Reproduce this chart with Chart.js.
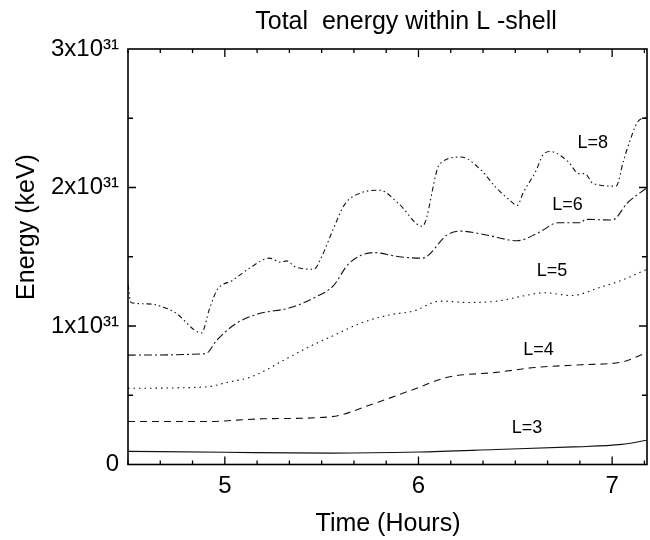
<!DOCTYPE html>
<html>
<head>
<meta charset="utf-8">
<script src="https://cdn.jsdelivr.net/npm/chart.js@4.4.0/dist/chart.umd.min.js"></script>
<style>
  html, body { margin: 0; padding: 0; background: #fff; }
  #wrap { width: 650px; height: 540px; }
</style>
</head>
<body>
<div id="wrap"><canvas id="chart"></canvas></div>
<script>
// energy in units of 1e31 keV, time in hours
const timeL3 = [4.5, 5.0, 5.55, 6.0, 6.4, 6.8, 7.05, 7.18];
const energyL3 = [0.095, 0.088, 0.082, 0.09, 0.108, 0.127, 0.145, 0.175];

const timeL4 = [4.5, 4.9, 5.2, 5.55, 5.75, 5.98, 6.15, 6.4, 6.6, 6.84, 7.05, 7.18];
const energyL4 = [0.31, 0.31, 0.33, 0.345, 0.43, 0.545, 0.63, 0.665, 0.70, 0.72, 0.74, 0.81];

const timeL5 = [4.5, 4.9, 5.02, 5.13, 5.21, 5.3, 5.45, 5.56, 5.7, 5.85, 5.98, 6.11, 6.25, 6.41, 6.55, 6.65, 6.79, 6.94, 7.05, 7.18];
const energyL5 = [0.55, 0.56, 0.595, 0.63, 0.68, 0.75, 0.86, 0.93, 1.02, 1.08, 1.11, 1.18, 1.17, 1.18, 1.22, 1.24, 1.22, 1.28, 1.33, 1.41];

const timeL6 = [4.5, 4.9, 4.96, 5.06, 5.17, 5.34, 5.47, 5.56, 5.64, 5.77, 5.9, 6.02, 6.15, 6.22, 6.35, 6.51, 6.62, 6.72, 6.84, 6.86, 7.0, 7.08, 7.18];
const energyL6 = [0.79, 0.80, 0.90, 1.02, 1.086, 1.133, 1.21, 1.29, 1.45, 1.53, 1.50, 1.49, 1.66, 1.685, 1.657, 1.616, 1.674, 1.745, 1.745, 1.77, 1.765, 1.89, 2.0];

const timeL8 = [4.5, 4.515, 4.6, 4.74, 4.88, 4.92, 4.96, 5.04, 5.13, 5.23, 5.29, 5.32, 5.36, 5.46, 5.5, 5.56, 5.62, 5.7, 5.8, 5.9, 6.02, 6.11, 6.22, 6.32, 6.4, 6.47, 6.51, 6.54, 6.61, 6.64, 6.68, 6.77, 6.83, 6.86, 6.9, 7.02, 7.06, 7.09, 7.13, 7.18];
const energyL8 = [1.30, 1.17, 1.16, 1.10, 0.95, 1.12, 1.26, 1.33, 1.42, 1.49, 1.46, 1.47, 1.43, 1.41, 1.50, 1.70, 1.88, 1.96, 1.98, 1.88, 1.72, 2.17, 2.22, 2.13, 2.0, 1.91, 1.87, 1.96, 2.13, 2.23, 2.26, 2.19, 2.10, 2.10, 2.03, 2.01, 2.2, 2.33, 2.47, 2.51];

const shellNames = ["L=3", "L=4", "L=5", "L=6", "L=8"];
const yTickValues = [0, 1, 2, 3];

const pts = (xs, ys) => xs.map((x, i) => ({ x: x, y: ys[i] }));

const line = (label, xs, ys, dash) => ({
    label: label,
    data: pts(xs, ys),
    borderColor: "#111",
    borderWidth: 1.1,
    borderDash: dash,
    pointRadius: 0,
    fill: false,
    cubicInterpolationMode: "monotone",
});

const FONT = "'Liberation Sans', Arial, sans-serif";

// where the L=.. labels sit, in data units
const shellLabelSpots = [
    { x: 6.56, y: 0.26 },
    { x: 6.62, y: 0.83 },
    { x: 6.69, y: 1.40 },
    { x: 6.77, y: 1.87 },
    { x: 6.90, y: 2.32 },
];

const frame = {
    id: "frame",
    afterDraw(chart) {
        const { ctx, chartArea: a, scales: { x, y } } = chart;
        ctx.save();
        ctx.strokeStyle = "#000";
        ctx.lineWidth = 1.6;
        ctx.strokeRect(a.left, a.top, a.right - a.left, a.bottom - a.top);

        ctx.lineWidth = 1.3;
        ctx.beginPath();
        // x ticks every 10 minutes
        for (let k = 27; k / 6 <= x.max + 1e-9; k++) {
            const px = x.getPixelForValue(k / 6);
            const len = k % 6 === 0 ? 8 : 4;
            ctx.moveTo(px, a.bottom); ctx.lineTo(px, a.bottom - len);
            ctx.moveTo(px, a.top); ctx.lineTo(px, a.top + len);
        }
        // y ticks every 0.5e31
        for (let v = 0.5; v < y.max; v += 0.5) {
            const py = y.getPixelForValue(v);
            const len = Number.isInteger(v) ? 8 : 5;
            ctx.moveTo(a.left, py); ctx.lineTo(a.left + len, py);
            ctx.moveTo(a.right, py); ctx.lineTo(a.right - len, py);
        }
        ctx.stroke();

        ctx.fillStyle = "#000";
        ctx.textAlign = "center";
        ctx.textBaseline = "middle";
        ctx.font = "18px " + FONT;
        shellLabelSpots.forEach((s, i) => {
            ctx.fillText(shellNames[i], x.getPixelForValue(s.x), y.getPixelForValue(s.y));
        });

        ctx.font = "25px " + FONT;
        ctx.fillText("Total  energy within L -shell", 406, 22);
        ctx.fillText("Time (Hours)", 388, 524);
        ctx.translate(27, 227);
        ctx.rotate(-Math.PI / 2);
        ctx.fillText("Energy (keV)", 0, 0);
        ctx.restore();
    }
};

new Chart(document.getElementById("chart"), {
    type: "line",
    data: {
        datasets: [
            line(shellNames[0], timeL3, energyL3, []),
            line(shellNames[1], timeL4, energyL4, [7, 5]),
            line(shellNames[2], timeL5, energyL5, [1.5, 4]),
            line(shellNames[3], timeL6, energyL6, [8, 3, 2, 3]),
            line(shellNames[4], timeL8, energyL8, [5, 3, 1.5, 3, 1.5, 3]),
        ]
    },
    options: {
        responsive: true,
        maintainAspectRatio: false,
        animation: false,
        layout: { padding: { top: 49, right: 3, left: 0, bottom: 0 } },
        plugins: {
            legend: { display: false },
            tooltip: { enabled: false },
        },
        scales: {
            x: {
                type: "linear",
                min: 4.5,
                max: 7.18,
                grid: { display: false, drawTicks: false },
                border: { display: false },
                ticks: {
                    stepSize: 1,
                    includeBounds: false,
                    color: "#000",
                    padding: 7,
                    font: { family: FONT, size: 24 },
                    callback: v => Number.isInteger(v) ? String(v) : "",
                },
                afterFit: s => { s.height = 75.5; },
            },
            y: {
                min: 0,
                max: 3,
                grid: { display: false, drawTicks: false },
                border: { display: false },
                afterBuildTicks: s => { s.ticks = yTickValues.map(v => ({ value: v })); },
                ticks: {
                    color: "#000",
                    padding: 9,
                    font: { family: FONT, size: 24 },
                    callback: v => v === 0 ? "0" : v + "x10\u00B3\u00B9",
                },
                afterFit: s => { s.width = 128; },
            }
        }
    },
    plugins: [frame]
});
</script>
</body>
</html>
